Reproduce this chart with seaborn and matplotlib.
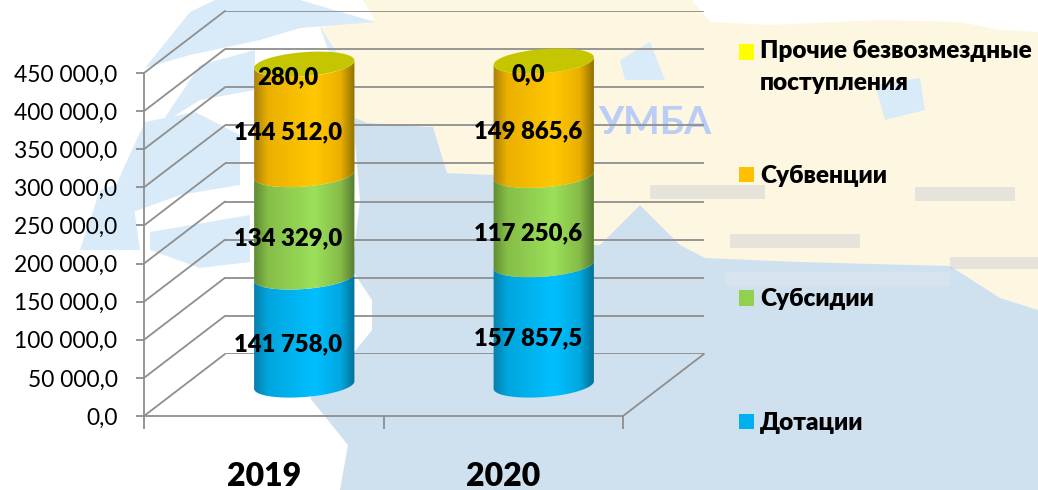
# -*- coding: utf-8 -*-
"""Безвозмездные поступления 2019-2020: цилиндры с фоном-картой"""

import numpy as np
import pandas as pd
import matplotlib.pyplot as plt
import seaborn as sns
from matplotlib.colors import LinearSegmentedColormap
from matplotlib.patches import ConnectionPatch, Patch, PathPatch, Polygon, Rectangle
from matplotlib.path import Path

# данные
years = ['2019', '2020']
dotacii = [141758.0, 157857.5]
subsidii = [134329.0, 117250.6]
subvencii = [144512.0, 149865.6]
prochie = [280.0, 0.0]
y_ticks = [0, 50000, 100000, 150000, 200000, 250000, 300000, 350000, 400000, 450000]
y_labels = ['0,0', '50 000,0', '100 000,0', '150 000,0', '200 000,0', '250 000,0',
            '300 000,0', '350 000,0', '400 000,0', '450 000,0']
legend_names = ['Прочие безвозмездные\nпоступления', 'Субвенции', 'Субсидии', 'Дотации']
legend_colors = ['#FFFF00', '#FFC000', '#92D050', '#00B0F0']

# фон-карта (в пикселях картинки)
land = [(320, 27), (375, 20), (363, 0), (1038, 0), (1038, 310), (1000, 298), (950, 266), (800, 262), (705, 258),
        (680, 245), (640, 205), (600, 245), (560, 245), (493, 175), (447, 173), (433, 127), (367, 123),
        (353, 117)]
white_top = [(692, 0), (1038, 0), (1038, 32), (1000, 30), (960, 22), (880, 20), (770, 25), (710, 22)]
sea = [(340, 490), (348, 445), (310, 398), (340, 370), (372, 330), (372, 300), (352, 270), (360, 200),
       (353, 117), (367, 123), (433, 127), (447, 173), (493, 175), (560, 245), (600, 245), (640, 205), (680, 245),
       (705, 258), (800, 262), (950, 266), (1000, 298), (1038, 310), (1038, 490)]
water_patches = [
    [(190, 12), (215, 0), (300, 0), (375, 22), (300, 28), (260, 40), (190, 55), (145, 68)],
    [(145, 122), (195, 112), (240, 135), (240, 185), (180, 195), (125, 215), (110, 200), (125, 165)],
    [(200, 65), (255, 50), (255, 90), (200, 100), (160, 125)],
    [(100, 190), (130, 180), (140, 250), (80, 250)],
    [(150, 232), (250, 215), (250, 262), (200, 268), (150, 250)],
    [(320, 27), (353, 117), (355, 200), (355, 80)],
    [(875, 85), (920, 78), (925, 110), (885, 120)],
    [(620, 60), (650, 42), (665, 80), (625, 80)],
]
smudges = [(650, 185, 115, 14), (915, 187, 100, 14), (730, 234, 130, 14), (950, 257, 88, 12),
           (725, 272, 225, 14)]

W, H = 1038, 490
sns.set_theme(style='white')
plt.rcParams['font.family'] = ['Lato', 'Noto Sans', 'DejaVu Sans']
gray = '#8E8E8E'


def px_rect(l, t, r, b):
    return [l / W, 1 - b / H, (r - l) / W, (b - t) / H]


fig = plt.figure(figsize=(W / 100, H / 100), dpi=100)

# фон
bg = fig.add_axes([0, 0, 1, 1], zorder=0)
bg.set_xlim(0, W)
bg.set_ylim(H, 0)
bg.axis('off')
bg.add_patch(Polygon(land, color='#FDF6E1', lw=0))
bg.add_patch(Polygon(white_top, color='white', lw=0))
bg.add_patch(Polygon(sea, color='#CFE0EF', lw=0))
for p in water_patches:
    bg.add_patch(Polygon(p, color='#D9EBF8', lw=0))
for x, y, w, h in smudges:
    bg.add_patch(Rectangle((x, y), w, h, color='#C4C7D4' if y < 260 else '#E4ECF4', alpha=0.4, lw=0))
bg.text(655, 122, 'УМБА', color='#B9CDF6', fontsize=28, fontweight='bold', ha='center', va='center')

# три плоскости с одинаковыми шкалами: передняя, середина (цилиндры), задняя
front_box = (144, 73, 623, 416)
depth = (81, -62)
ax_front = fig.add_axes(px_rect(*front_box), zorder=2)
ax_back = fig.add_axes(px_rect(front_box[0] + depth[0], front_box[1] + depth[1],
                               front_box[2] + depth[0], front_box[3] + depth[1]), zorder=1)
ax_mid = fig.add_axes(px_rect(front_box[0] + depth[0] / 2, front_box[1] + depth[1] / 2,
                              front_box[2] + depth[0] / 2, front_box[3] + depth[1] / 2), zorder=3)
for ax in (ax_front, ax_back, ax_mid):
    ax.set_facecolor('none')
    ax.set_xlim(-0.5, 1.5)
    ax.set_ylim(0, 450000)

# задняя стенка
ax_back.set_xticks([])
ax_back.set_yticks(y_ticks)
ax_back.tick_params(left=False, labelleft=False)
ax_back.grid(axis='y', color=gray, lw=1.3)
ax_back.set_axisbelow(True)
for s in ax_back.spines.values():
    s.set_visible(False)

# передняя плоскость: оси и подписи
for name, s in ax_front.spines.items():
    s.set_visible(name in ('left', 'bottom'))
    s.set_color(gray)
    s.set_linewidth(1.3)
ax_front.set_yticks(y_ticks, y_labels)
ax_front.set_xticks([-0.5, 0.5, 1.5], ['', '', ''])
ax_front.set_xticks([0, 1], years, minor=True)
ax_front.tick_params(axis='y', left=True, length=6, width=1.3, color=gray, pad=13, labelsize=16.4,
                     labelcolor='black')
ax_front.tick_params(axis='x', which='major', bottom=True, length=9, width=1.3, color=gray)
ax_front.tick_params(axis='x', which='minor', bottom=False, length=0, pad=33, labelsize=23, labelcolor='black')
for t in ax_front.get_xticklabels(minor=True):
    t.set_fontweight('heavy')

# косые линии пола и боковой стенки
for v in y_ticks:
    fig.add_artist(ConnectionPatch((-0.5, v), (-0.5, v), ax_front.transData, ax_back.transData,
                                   color=gray, lw=1.3, zorder=1.5))
fig.add_artist(ConnectionPatch((1.5, 0), (1.5, 0), ax_front.transData, ax_back.transData,
                               color=gray, lw=1.3, zorder=1.5))

# цилиндры
series = pd.DataFrame({'Дотации': dotacii, 'Субсидии': subsidii, 'Субвенции': subvencii, 'Прочие': prochie},
                      index=years)
bar_width = 0.42
bottoms = np.zeros(len(years))
for col in series.columns:
    sns.barplot(x=years, y=series[col].values, bottom=bottoms, width=bar_width, color='white',
                errorbar=None, ax=ax_mid)
    bottoms = bottoms + series[col].values
ax_mid.set_xlim(-0.5, 1.5)
ax_mid.set_ylim(0, 450000)
ax_mid.axis('off')
for patch in ax_mid.patches:
    patch.set_alpha(0)

stops = [0, 0.14, 0.6, 0.86, 1]
shades = {
    'Дотации': ['#067FA9', '#00A6DE', '#00BFFF', '#00A8E0', '#046F96'],
    'Субсидии': ['#5F8C33', '#86BE48', '#9BE05A', '#86BC48', '#567A30'],
    'Субвенции': ['#A9810B', '#EBB000', '#FFC800', '#EBB000', '#8F7000'],
    'Прочие': ['#A9A900', '#E0E000', '#FFFF00', '#E0E000', '#8F8F00'],
}
ppx = ax_mid.transData.transform((1, 1)) - ax_mid.transData.transform((0, 0))
semi_minor = 12.0
tilt = np.deg2rad(4.5)


def ellipse_pts(cx, v, t):
    a = bar_width / 2 * ppx[0]
    dx = a * np.cos(t) * np.cos(tilt) - semi_minor * np.sin(t) * np.sin(tilt)
    dy = a * np.cos(t) * np.sin(tilt) + semi_minor * np.sin(t) * np.cos(tilt)
    return np.column_stack([cx + dx / ppx[0], v + dy / ppx[1]])


low_arc = np.linspace(np.pi, 2 * np.pi, 60)
for i in range(len(years)):
    base = 0.0
    for col in series.columns:
        val = series[col].iloc[i]
        top = base + val
        if val > 0:
            pts = np.vstack([ellipse_pts(i, base, low_arc), ellipse_pts(i, top, low_arc[::-1])])
            cmap = LinearSegmentedColormap.from_list(col, list(zip(stops, shades[col])))
            grad = np.linspace(0, 1, 256).reshape(1, -1)
            im = ax_mid.imshow(grad, cmap=cmap, aspect='auto', zorder=3,
                               extent=(i - bar_width / 2, i + bar_width / 2, base - 20000, top + 20000))
            clip = PathPatch(Path(np.vstack([pts, pts[:1]])), transform=ax_mid.transData, fc='none', lw=0)
            ax_mid.add_patch(clip)
            im.set_clip_path(clip)
            im.set_clip_box(fig.bbox)
        base = top
    cap = ellipse_pts(i, base, np.linspace(0, 2 * np.pi, 120))
    ax_mid.add_patch(Polygon(cap, closed=True, fc='#C6C600', lw=0, zorder=4))

    # подписи значений
    base = 0.0
    for col in series.columns:
        val = series[col].iloc[i]
        txt = f'{val:,.1f}'.replace(',', ' ').replace('.', ',')
        ax_mid.annotate(txt, (i, base + val / 2), xytext=(-16 * 0.72, -13 * 0.72), textcoords='offset points',
                        ha='center', va='center', fontsize=17.2, fontweight='heavy', color='black', zorder=5,
                        annotation_clip=False)
        base += val
ax_mid.set_xlim(-0.5, 1.5)
ax_mid.set_ylim(0, 450000)

# легенда: две части, первая подпись в две строки
handles = [Patch(fc=c, lw=0) for c in legend_colors]
leg_kw = dict(loc='upper left', frameon=False, prop={'size': 17.6, 'weight': 'heavy'}, handlelength=0.6,
              handleheight=0.6, handletextpad=0.25, borderpad=0, borderaxespad=0, labelcolor='black')
leg_top = fig.legend(handles[:1], legend_names[:1], bbox_to_anchor=(739 / W, 1 - 40 / H), labelspacing=0, **leg_kw)
for t in leg_top.get_texts():
    t.set_linespacing(1.55)
leg_top.legend_handles[0].set_y(11.8)
leg_low = fig.legend(handles[1:], legend_names[1:], bbox_to_anchor=(739 / W, 1 - 165 / H), labelspacing=4.15,
                     **leg_kw)
leg_top.set_zorder(5)
leg_low.set_zorder(5)

fig.savefig('out.png', dpi=100)
